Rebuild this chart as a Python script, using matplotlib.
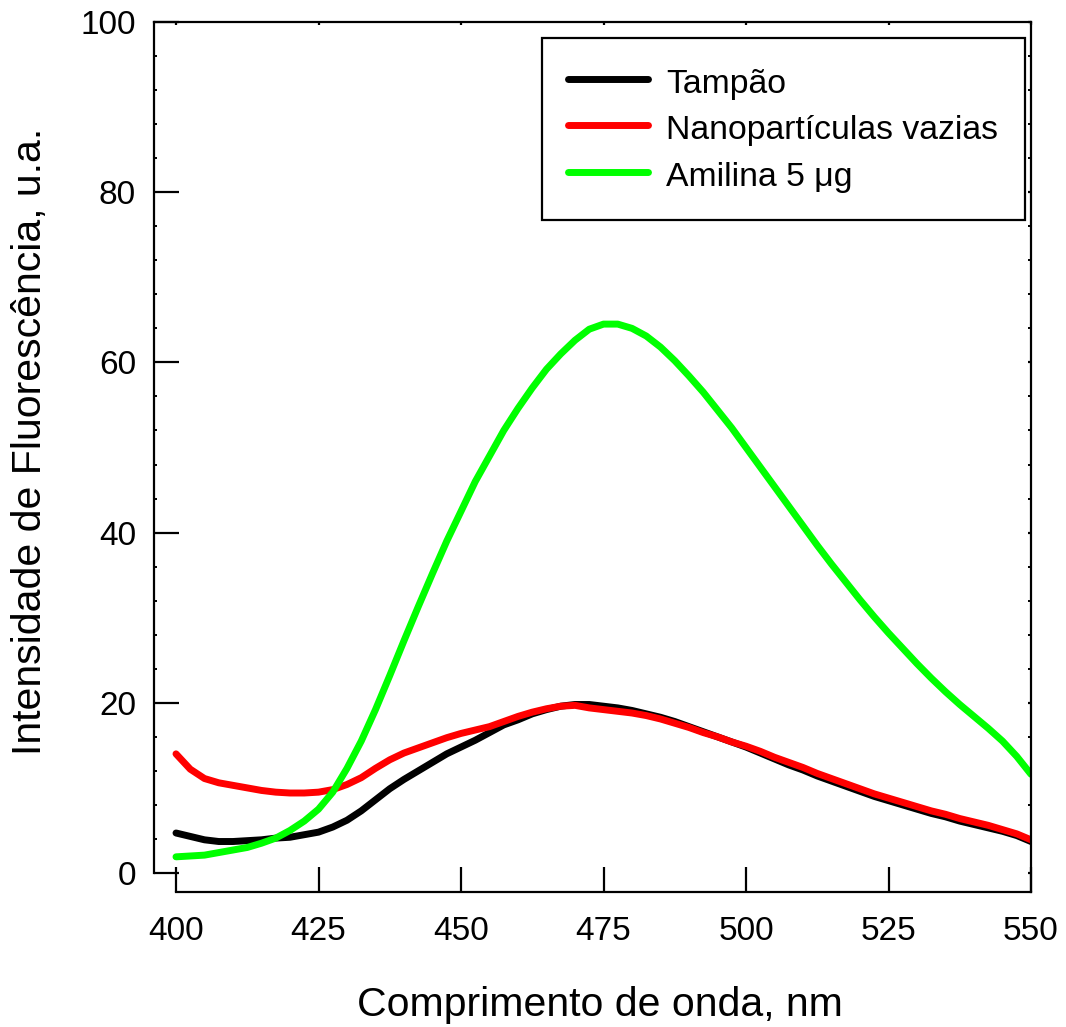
import matplotlib
matplotlib.use("Agg")
import matplotlib.pyplot as plt
from matplotlib.ticker import MultipleLocator

plt.rcParams['font.family'] = ['Liberation Sans', 'DejaVu Sans']

wavelength = [400 + 2.5 * i for i in range(61)]

tampao = [4.7, 4.3, 3.9, 3.7, 3.7, 3.8, 3.9, 4.1, 4.2, 4.5,
          4.8, 5.4, 6.2, 7.3, 8.6, 9.9, 11.0, 12.0, 13.0, 14.0,
          14.8, 15.6, 16.5, 17.4, 18.0, 18.7, 19.2, 19.6, 19.8, 19.8,
          19.6, 19.4, 19.1, 18.7, 18.3, 17.8, 17.2, 16.6, 16.0, 15.4,
          14.8, 14.1, 13.4, 12.7, 12.1, 11.4, 10.8, 10.2, 9.6, 9.0,
          8.5, 8.0, 7.5, 7.0, 6.6, 6.1, 5.7, 5.3, 4.9, 4.4, 3.7]

nanoparticulas = [14.0, 12.2, 11.1, 10.6, 10.3, 10.0, 9.7, 9.5, 9.4, 9.4,
                  9.5, 9.8, 10.4, 11.2, 12.3, 13.3, 14.1, 14.7, 15.3, 15.9,
                  16.4, 16.8, 17.2, 17.8, 18.4, 18.9, 19.3, 19.6, 19.7, 19.4,
                  19.2, 19.0, 18.8, 18.5, 18.1, 17.6, 17.1, 16.5, 16.0, 15.4,
                  14.9, 14.3, 13.6, 13.0, 12.4, 11.7, 11.1, 10.5, 9.9, 9.3,
                  8.8, 8.3, 7.8, 7.3, 6.9, 6.4, 6.0, 5.6, 5.1, 4.6, 3.9]

amilina = [1.9, 2.0, 2.1, 2.4, 2.7, 3.0, 3.5, 4.1, 5.0, 6.1,
           7.5, 9.5, 12.3, 15.5, 19.2, 23.2, 27.3, 31.3, 35.2, 39.0,
           42.5, 46.0, 49.0, 52.0, 54.6, 57.0, 59.2, 61.0, 62.6, 63.9,
           64.5, 64.5, 64.0, 63.1, 61.8, 60.2, 58.4, 56.5, 54.4, 52.3,
           50.0, 47.7, 45.4, 43.1, 40.8, 38.5, 36.3, 34.2, 32.1, 30.1,
           28.2, 26.4, 24.6, 22.9, 21.3, 19.8, 18.4, 17.0, 15.5, 13.7, 11.6]

labels = ['Tampão', 'Nanopartículas vazias', 'Amilina 5 μg']
colors = ['#000000', '#ff0000', '#00ff00']

x_ticks = [400, 425, 450, 475, 500, 525, 550]
y_ticks = [0, 20, 40, 60, 80, 100]

W, H = 1066, 1027
fig = plt.figure(figsize=(W / 100, H / 100), dpi=100)

left_px, right_px, top_px, bot_px = 154, 1031, 22, 892
ax = fig.add_axes([left_px / W, 1 - bot_px / H,
                   (right_px - left_px) / W, (bot_px - top_px) / H])

xscale = (1031 - 176) / 150.0
yscale = (873 - 22) / 100.0
ax.set_xlim(400 - (176 - left_px) / xscale, 550)
ax.set_ylim(0 - (bot_px - 873) / yscale, 100)

lw = 5.0
for series, lab, col in zip([tampao, nanoparticulas, amilina], labels, colors):
    ax.plot(wavelength, series, color=col, lw=lw, label=lab,
            solid_capstyle='round', solid_joinstyle='round')

for s in ax.spines.values():
    s.set_linewidth(1.6)
ax.spines['left'].set_bounds(0, 100)
ax.spines['bottom'].set_bounds(400, 550)

ax.set_xticks(x_ticks)
ax.set_yticks(y_ticks)
ax.set_xticklabels([str(v) for v in x_ticks])
ax.set_yticklabels([str(v) for v in y_ticks])
ax.yaxis.set_minor_locator(MultipleLocator(4))

fs_tick = 24.0
ax.tick_params(axis='y', which='major', direction='in', length=18, width=1.6,
               labelsize=fs_tick, pad=13, left=True, right=True)
ax.tick_params(axis='y', which='minor', direction='in', length=2.5, width=1.4,
               left=True, right=True)
ax.tick_params(axis='x', which='major', direction='in', length=18, width=1.6,
               labelsize=fs_tick, pad=17, top=True, bottom=True)

for t in ax.yaxis.get_major_ticks():
    t.tick2line.set_markersize(2.5)
for t in ax.xaxis.get_major_ticks():
    t.tick2line.set_markersize(2.5)

fig.text(600 / W, 1 - 1016 / H, 'Comprimento de onda, nm', fontsize=29.5,
         ha='center', va='baseline')
fig.text(30 / W, 1 - 441 / H, 'Intensidade de Fluorescência, u.a.', fontsize=29.5,
         ha='center', va='center', rotation=90)

leg = ax.legend(loc='upper right', bbox_to_anchor=(1025 / W, 1 - 38 / H),
                bbox_transform=fig.transFigure, borderaxespad=0,
                fontsize=24.3, frameon=True, fancybox=False, framealpha=1,
                edgecolor='black', handlelength=2.37, handletextpad=0.53,
                handleheight=1.13, labelspacing=0.35, borderpad=0.79)
leg.get_frame().set_linewidth(1.6)
for h in leg.get_lines():
    h.set_solid_capstyle('round')

fig.savefig('out.png', dpi=100)
